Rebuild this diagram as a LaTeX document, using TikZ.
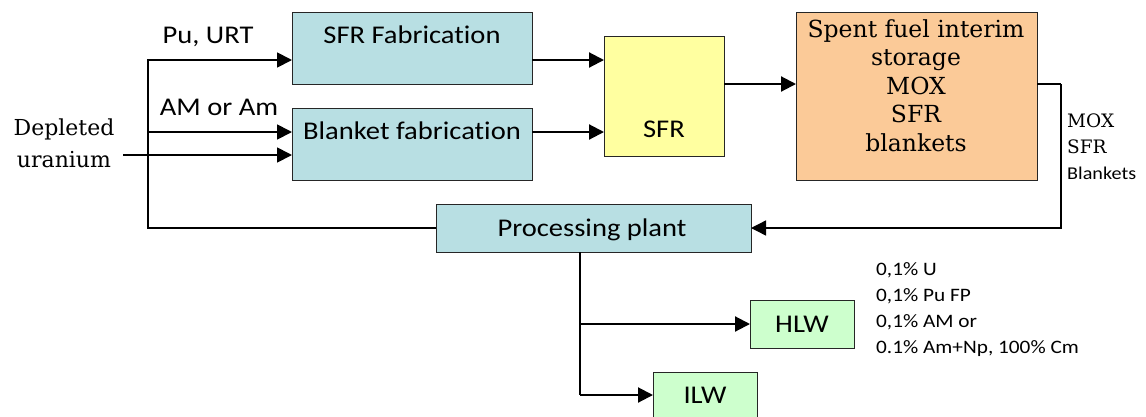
\documentclass[tikz,border=0pt]{standalone}
\usepackage{fontspec}
\newfontfamily\calsans{Carlito}[FakeStretch=1.12,Ligatures=NoCommon]
\newfontfamily\slab{DejaVu Serif}
\usetikzlibrary{arrows.meta}
\definecolor{boxblue}{RGB}{184,223,227}
\definecolor{sfryellow}{RGB}{255,255,160}
\definecolor{spentorange}{RGB}{251,202,152}
\definecolor{wastegreen}{RGB}{205,255,205}
\begin{document}
\begin{tikzpicture}[x=1pt,y=1pt,
  box/.style={draw=black!85, line width=0.9pt, inner sep=0pt, outer sep=0pt, anchor=north west},
  bluebox/.style={box, fill=boxblue},
  tip/.style={-{Triangle[length=15pt,width=15pt]}},
  flow/.style={line width=2.1pt, tip},
  link/.style={line width=1.8pt},
  lab/.style={font=\calsans\fontsize{25.5}{28}\selectfont, inner sep=0pt, anchor=base},
  serifbig/.style={font=\slab\fontsize{23.5}{28.5}\selectfont, inner sep=0pt, align=center},
  seriflab/.style={font=\slab\fontsize{22}{32}\selectfont, inner sep=0pt, align=center},
  serifsmall/.style={font=\slab\fontsize{18.5}{26}\selectfont, inner sep=0pt, align=left},
  notes/.style={font=\calsans\fontsize{19}{26.2}\selectfont, inner sep=0pt, align=left},
]
\useasboundingbox (0,0) rectangle (1146,-416);

% boxes
\node[bluebox, minimum width=240pt, minimum height=72pt] (fab) at (292,-12) {};
\node[bluebox, minimum width=240pt, minimum height=72pt] (blk) at (292,-108) {};
\node[box, fill=sfryellow, minimum width=120pt, minimum height=120pt] (sfr) at (604,-36) {};
\node[box, fill=spentorange, minimum width=241pt, minimum height=168pt] (store) at (796,-12) {};
\node[bluebox, minimum width=315pt, minimum height=48pt] (proc) at (436,-204) {};
\node[box, fill=wastegreen, minimum width=104pt, minimum height=48pt] (hlw) at (750,-300) {};
\node[box, fill=wastegreen, minimum width=104pt, minimum height=52pt] (ilw) at (653,-372) {};

% box texts
\node[lab] (tfab) at (412,-43) {SFR Fabrication};
\node[lab] (tblk) at (412,-139) {Blanket fabrication};
\node[lab] (tsfr) at (664,-137) {SFR};
\node[lab] (tproc) at (592,-236) {Processing plant};
\node[lab] (thlw) at (802,-332) {HLW};
\node[lab] (tilw) at (705,-403) {ILW};
\node[serifbig, anchor=north] (tstore) at (916,-19) {Spent fuel interim\\storage\\MOX\\SFR\\blankets};

% free labels
\node[lab] (tpu) at (208,-43) {Pu, URT};
\node[lab] (tam) at (219,-115) {AM or Am};
\node[seriflab, anchor=north] (tdep) at (64,-119) {Depleted\\uranium};
\node[serifsmall, anchor=north west] (tmox) at (1067,-114) {MOX\\SFR\\{\calsans\fontsize{18}{26}\selectfont Blankets}};
\node[notes, anchor=north west] (tnotes) at (876,-262) {0,1\% U\\0,1\% Pu FP\\0,1\% AM or\\0.1\% Am+Np, 100\% Cm};

% helper coordinates
\coordinate (ytop) at (0,-60);
\coordinate (yam) at (0,-132);
\coordinate (ydep) at (0,-155);
\coordinate (ystore) at (0,-84);
\coordinate (loopx) at (148,-60);
\coordinate (depstart) at (123,-155);
\coordinate (backx) at (1061,-84);
\coordinate (trunk) at (580,-252);
\coordinate (yhlw) at (0,-324);
\coordinate (yilw) at (0,-395);

% connectors
\draw[link, tip] (proc.west) -| (loopx) -- (fab.west |- loopx);
\draw[link, tip] (loopx |- yam) -- (blk.west |- yam);
\draw[link, tip] (depstart) -- (blk.west |- ydep);
\draw[flow] (fab.east |- ytop) -- (sfr.west |- ytop);
\draw[flow] (blk.east |- yam) -- (sfr.west |- yam);
\draw[flow] (sfr.east |- ystore) -- (store.west |- ystore);
\draw[line width=1.4pt] (store.east |- ystore) -- (backx);
\draw[line width=1.4pt, tip] (backx) |- (proc.east);
\draw[link] (trunk) -- (trunk |- yilw);
\draw[flow] (trunk |- yhlw) -- (hlw.west |- yhlw);
\draw[flow] (trunk |- yilw) -- (ilw.west |- yilw);
\end{tikzpicture}
\end{document}
